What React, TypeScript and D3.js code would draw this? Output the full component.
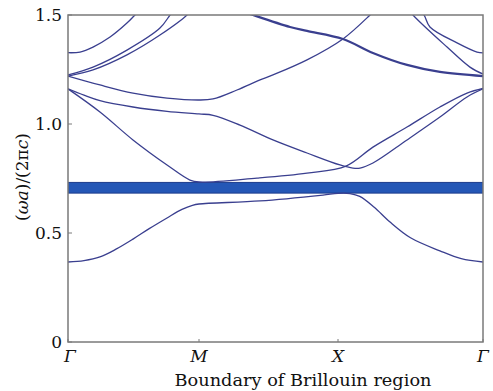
import React from 'react';
import * as d3 from 'd3';

// Path coordinate k: 0 = Γ, 1 = M, 2 = X, 3 = Γ
const kTicks = [0, 1, 2, 3];
const kLabels = ['Γ', 'M', 'X', 'Γ'];
const yTicks = [0, 0.5, 1.0, 1.5];
const yTickLabels = ['0', '0.5', '1.0', '1.5'];
const flatBand = [0.683, 0.732];

const band1: [number, number][] = [
  [0, 0.367], [0.122, 0.373], [0.244, 0.39], [0.37, 0.427], [0.496, 0.472], [0.62, 0.52],
  [0.756, 0.569], [0.87, 0.608], [0.95, 0.627], [1, 0.633],
  [1.439, 0.647], [1.892, 0.674], [2, 0.682], [2.083, 0.681], [2.15, 0.668], [2.25, 0.618],
  [2.359, 0.55], [2.5, 0.478], [2.703, 0.418], [2.85, 0.382], [3, 0.367],
];
const band2: [number, number][] = [
  [0, 1.161], [0.244, 1.055], [0.496, 0.927], [0.756, 0.812], [0.931, 0.743], [1, 0.734],
  [1.417, 0.752], [1.777, 0.775], [2.055, 0.807], [2.241, 0.894], [2.476, 0.986],
  [2.703, 1.078], [2.89, 1.142], [3, 1.163],
];
const band3: [number, number][] = [
  [0, 1.161], [0.122, 1.132], [0.244, 1.107], [0.496, 1.078], [0.756, 1.058], [1, 1.046], [1.101, 1.04],
  [1.295, 0.995], [1.532, 0.927], [1.777, 0.867], [2.014, 0.812], [2.103, 0.798],
  [2.152, 0.798], [2.241, 0.821], [2.476, 0.927], [2.703, 1.032], [2.89, 1.124], [3, 1.161],
];
const band4: [number, number][] = [
  [0, 1.22], [0.244, 1.179], [0.496, 1.142], [0.756, 1.119], [1, 1.11], [1.101, 1.115],
  [1.273, 1.156], [1.439, 1.202], [1.532, 1.225], [1.777, 1.294], [2.034, 1.39],
  [2.221, 1.5], [2.28, 1.54],
];
const band5: [number, number][] = [
  [1.223, 1.537], [1.388, 1.5], [1.655, 1.445], [1.777, 1.427], [2.034, 1.39], [2.241, 1.326],
  [2.476, 1.271], [2.703, 1.239], [3, 1.22],
];
const band6: [number, number][] = [
  [0, 1.327], [0.092, 1.33], [0.191, 1.353], [0.321, 1.399], [0.45, 1.463], [0.511, 1.5], [0.573, 1.541],
];
const band7: [number, number][] = [
  [0, 1.225], [0.191, 1.261], [0.45, 1.339], [0.702, 1.44], [0.779, 1.5], [0.84, 1.546],
];
const band8: [number, number][] = [
  [0, 1.22], [0.191, 1.248], [0.45, 1.317], [0.702, 1.408], [0.908, 1.5], [0.969, 1.546],
];
const band9: [number, number][] = [
  [2.462, 1.546], [2.517, 1.5], [2.752, 1.353], [2.91, 1.261], [3, 1.229],
];
const band10: [number, number][] = [
  [2.53, 1.546], [2.593, 1.5], [2.634, 1.445], [2.821, 1.372], [2.959, 1.33], [3, 1.326],
];

const thinBands = [band1, band2, band3, band4, band6, band7, band8, band9, band10];
const thickBands = [band5];

export default function App() {
  const W = 493, H = 391;
  const x = d3.scaleLinear().domain(kTicks).range([68, 199, 338, 483]);
  const y = d3.scaleLinear().domain([0, 1.5]).range([342, 15]);
  const line = d3.line<[number, number]>()
    .x(d => x(d[0]))
    .y(d => y(d[1]))
    .curve(d3.curveCatmullRom.alpha(0.5));
  const lineColor = '#3a3f8f';
  const font = '"DejaVu Serif", serif';
  const textColor = '#111';
  return (
    <svg width={W} height={H} style={{ position: 'fixed', left: 0, top: 0, background: '#fff' }}>
      <defs>
        <clipPath id="plot">
          <rect x={68} y={15} width={415} height={327} />
        </clipPath>
      </defs>
      <rect x={0} y={0} width={W} height={H} fill="#fff" />
      <g clipPath="url(#plot)">
        <rect x={68} y={y(flatBand[1])} width={415} height={y(flatBand[0]) - y(flatBand[1])}
          fill="#2457b6" stroke="#1c3c8c" strokeWidth={1} />
        {thinBands.map((b, i) => (
          <path key={i} d={line(b) || ''} fill="none" stroke={lineColor} strokeWidth={1.3} />
        ))}
        {thickBands.map((b, i) => (
          <path key={'t' + i} d={line(b) || ''} fill="none" stroke={lineColor} strokeWidth={2.2} />
        ))}
      </g>
      <rect x={68} y={15} width={415} height={327} fill="none" stroke="#7a7a7a" strokeWidth={1.5} />
      {yTicks.map((t, i) => (
        <g key={i}>
          <line x1={68} x2={72} y1={y(t)} y2={y(t)} stroke="#7a7a7a" strokeWidth={1} />
          <text x={62} y={y(t)} textAnchor="end" dominantBaseline="central"
            fontFamily={font} fontSize={17} fill={textColor}>{yTickLabels[i]}</text>
        </g>
      ))}
      {kTicks.map((t, i) => (
        <g key={i}>
          <line x1={x(t)} x2={x(t)} y1={342} y2={339} stroke="#7a7a7a" strokeWidth={1} />
          <text x={x(t) + (i === 0 ? 2 : 0)} y={362} textAnchor="middle"
            fontFamily={font} fontStyle="italic" fontSize={17} fill={textColor}>{kLabels[i]}</text>
        </g>
      ))}
      <text x={303} y={386} textAnchor="middle" fontFamily={font} fontSize={17} fill={textColor}
        textLength={257} lengthAdjust="spacingAndGlyphs">Boundary of Brillouin region</text>
      <text transform="translate(28,177) rotate(-90)" textAnchor="middle"
        fontFamily={font} fontSize={17} fill={textColor}>
        (<tspan fontStyle="italic">ωa</tspan>)/(2π<tspan fontStyle="italic">c</tspan>)
      </text>
    </svg>
  );
}
